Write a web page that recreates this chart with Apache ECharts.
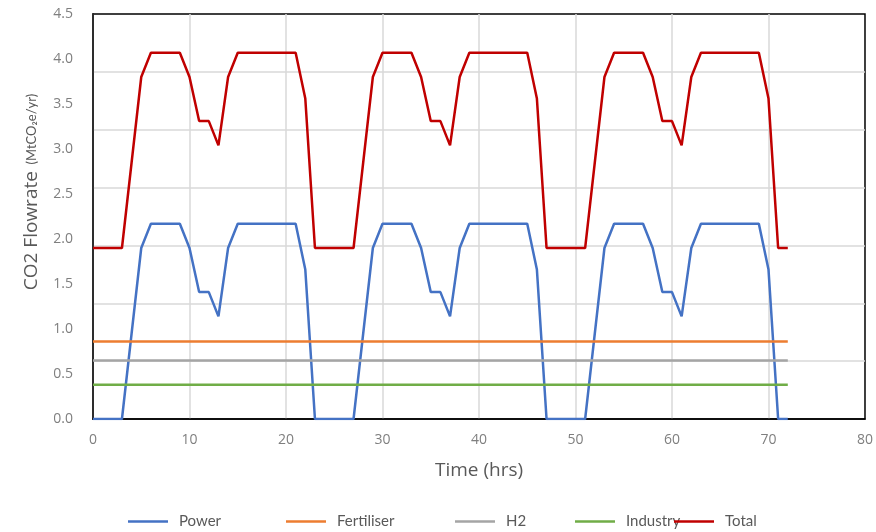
<!DOCTYPE html>
<html>
<head>
<meta charset="utf-8">
<script src="https://cdn.jsdelivr.net/npm/echarts@6/dist/echarts.min.js"></script>
<style>
  html, body { margin: 0; padding: 0; background: #fff; }
  #chart { width: 876px; height: 532px; }
</style>
</head>
<body>
<div id="chart"></div>
<script>
// hourly values
var hours = [0,1,2,3,4,5,6,7,8,9,10,11,12,13,14,15,16,17,18,19,20,21,22,23,
  24,25,26,27,28,29,30,31,32,33,34,35,36,37,38,39,40,41,42,43,44,45,46,47,
  48,49,50,51,52,53,54,55,56,57,58,59,60,61,62,63,64,65,66,67,68,69,70,71,72];
var power = [0,0,0,0,0.95,1.9,2.17,2.17,2.17,2.17,1.9,1.41,1.41,1.14,1.9,2.17,2.17,2.17,2.17,2.17,2.17,2.17,1.66,0,
  0,0,0,0,0.95,1.9,2.17,2.17,2.17,2.17,1.9,1.41,1.41,1.14,1.9,2.17,2.17,2.17,2.17,2.17,2.17,2.17,1.66,0,
  0,0,0,0,0.95,1.9,2.17,2.17,2.17,2.17,1.9,1.41,1.41,1.14,1.9,2.17,2.17,2.17,2.17,2.17,2.17,2.17,1.66,0,0];
var fertiliser = [0.86,0.86,0.86,0.86,0.86,0.86,0.86,0.86,0.86,0.86,0.86,0.86,0.86,0.86,0.86,0.86,0.86,0.86,0.86,0.86,0.86,0.86,0.86,0.86,
  0.86,0.86,0.86,0.86,0.86,0.86,0.86,0.86,0.86,0.86,0.86,0.86,0.86,0.86,0.86,0.86,0.86,0.86,0.86,0.86,0.86,0.86,0.86,0.86,
  0.86,0.86,0.86,0.86,0.86,0.86,0.86,0.86,0.86,0.86,0.86,0.86,0.86,0.86,0.86,0.86,0.86,0.86,0.86,0.86,0.86,0.86,0.86,0.86,0.86];
var h2 = [0.65,0.65,0.65,0.65,0.65,0.65,0.65,0.65,0.65,0.65,0.65,0.65,0.65,0.65,0.65,0.65,0.65,0.65,0.65,0.65,0.65,0.65,0.65,0.65,
  0.65,0.65,0.65,0.65,0.65,0.65,0.65,0.65,0.65,0.65,0.65,0.65,0.65,0.65,0.65,0.65,0.65,0.65,0.65,0.65,0.65,0.65,0.65,0.65,
  0.65,0.65,0.65,0.65,0.65,0.65,0.65,0.65,0.65,0.65,0.65,0.65,0.65,0.65,0.65,0.65,0.65,0.65,0.65,0.65,0.65,0.65,0.65,0.65,0.65];
var industry = [0.38,0.38,0.38,0.38,0.38,0.38,0.38,0.38,0.38,0.38,0.38,0.38,0.38,0.38,0.38,0.38,0.38,0.38,0.38,0.38,0.38,0.38,0.38,0.38,
  0.38,0.38,0.38,0.38,0.38,0.38,0.38,0.38,0.38,0.38,0.38,0.38,0.38,0.38,0.38,0.38,0.38,0.38,0.38,0.38,0.38,0.38,0.38,0.38,
  0.38,0.38,0.38,0.38,0.38,0.38,0.38,0.38,0.38,0.38,0.38,0.38,0.38,0.38,0.38,0.38,0.38,0.38,0.38,0.38,0.38,0.38,0.38,0.38,0.38];
var total = [1.9,1.9,1.9,1.9,2.85,3.8,4.07,4.07,4.07,4.07,3.8,3.31,3.31,3.04,3.8,4.07,4.07,4.07,4.07,4.07,4.07,4.07,3.56,1.9,
  1.9,1.9,1.9,1.9,2.85,3.8,4.07,4.07,4.07,4.07,3.8,3.31,3.31,3.04,3.8,4.07,4.07,4.07,4.07,4.07,4.07,4.07,3.56,1.9,
  1.9,1.9,1.9,1.9,2.85,3.8,4.07,4.07,4.07,4.07,3.8,3.31,3.31,3.04,3.8,4.07,4.07,4.07,4.07,4.07,4.07,4.07,3.56,1.9,1.9];

var names = ['Power', 'Fertiliser', 'H2', 'Industry', 'Total'];
var colors = ['#4472c4', '#ed7d31', '#a5a5a5', '#70ad47', '#c00000'];
var values = [power, fertiliser, h2, industry, total];
var legendLeft = [128, 286, 455, 575, 674];

var textColor = '#7f7f7f';
var font = '"Open Sans", "Noto Sans", sans-serif';

function pairs(ys) {
  return hours.map(function (h, i) { return [h, ys[i]]; });
}

var myChart = echarts.init(document.getElementById('chart'));

var option = {
  animation: false,
  grid: {
    left: 93, right: 6, top: 14, bottom: 113,
    show: true, borderColor: '#000', borderWidth: 1.5
  },
  // one legend per item so the spacing can follow the picture
  legend: names.map(function (n, i) {
    return {
      data: [n],
      left: legendLeft[i],
      top: 514,
      padding: 0,
      icon: 'rect',
      itemWidth: 40,
      itemHeight: 2.5,
      textStyle: { color: '#595959', fontSize: 15, fontFamily: 'Lato, sans-serif', padding: [0, 0, 0, 6] }
    };
  }),
  xAxis: {
    type: 'value',
    min: 0, max: 80, interval: 10,
    name: 'Time (hrs)',
    nameLocation: 'middle',
    nameGap: 42,
    nameTextStyle: { color: '#595959', fontSize: 19, fontFamily: font },
    axisLine: { show: true, lineStyle: { color: '#000', width: 1.5 } },
    axisTick: { show: false },
    axisLabel: { color: textColor, fontSize: 14, fontFamily: font, margin: 14 },
    splitLine: { show: true, showMaxLine: false, lineStyle: { color: '#d9d9d9', width: 1.5 } }
  },
  yAxis: [
    {
      type: 'value',
      min: 0, max: 4.5, interval: 0.5,
      axisLine: { show: true, lineStyle: { color: '#000', width: 1.5 } },
      axisTick: { show: false },
      axisLabel: {
        color: textColor, fontSize: 14, fontFamily: font, margin: 20,
        formatter: function (v) { return v.toFixed(1); }
      },
      splitLine: { show: false }
    },
    {
      // gridlines in the picture follow their own spacing
      type: 'value',
      min: 0, max: 7, interval: 1,
      position: 'left',
      axisLine: { show: false },
      axisTick: { show: false },
      axisLabel: { show: false },
      splitLine: { show: true, showMaxLine: false, showMinLine: false, lineStyle: { color: '#d9d9d9', width: 1.5 } }
    }
  ],
  graphic: [{
    type: 'text',
    x: 32,
    y: 192,
    rotation: Math.PI / 2,
    style: {
      text: '{a|CO2 Flowrate}  {b|(MtCO₂e/yr)}',
      align: 'center',
      verticalAlign: 'middle',
      rich: {
        a: { fontSize: 19, fontFamily: font, fill: '#595959' },
        b: { fontSize: 13, fontFamily: 'Lato, sans-serif', fill: '#595959' }
      }
    }
  }],
  series: names.map(function (n, i) {
    return {
      name: n,
      type: 'line',
      yAxisIndex: 0,
      data: pairs(values[i]),
      showSymbol: false,
      symbol: 'none',
      color: colors[i],
      lineStyle: { color: colors[i], width: 2.5 },
      z: i === 4 ? 4 : 3
    };
  })
};
myChart.setOption(option);
</script>
</body>
</html>
